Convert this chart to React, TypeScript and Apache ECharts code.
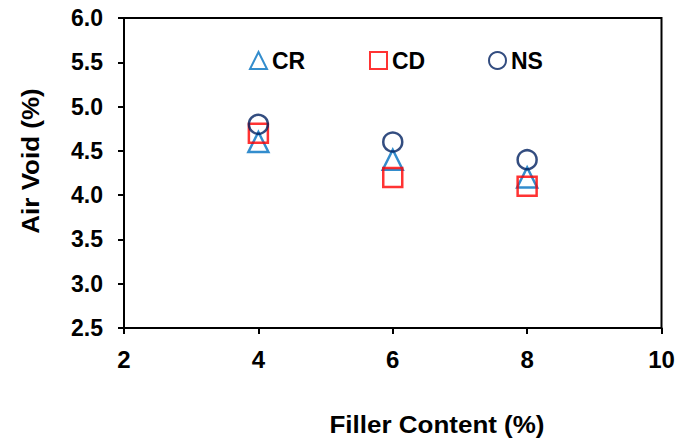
import React, { useEffect, useRef } from "react";
import * as echarts from "echarts";

const fillerContent = [4, 6, 8];
const crValues = [4.6, 4.4, 4.2];
const cdValues = [4.7, 4.2, 4.1];
const nsValues = [4.8, 4.6, 4.4];
const seriesNames = ["CR", "CD", "NS"];

const FONT = "'Liberation Sans', Arial, sans-serif";

export default function App() {
  const ref = useRef<HTMLDivElement>(null);
  useEffect(() => {
    document.body.style.margin = "0";
    if (!ref.current) return;
    const chart = echarts.init(ref.current, null, { renderer: "svg" });
    const mk = (name: string, vals: number[], symbol: string, color: string, size: number) => ({
      name,
      type: "scatter",
      symbol,
      symbolSize: size,
      data: fillerContent.map((x, i) => [x, vals[i]]),
      itemStyle: { color: "rgba(255,255,255,0)", borderColor: color, borderWidth: 2.5 },
      emphasis: { disabled: true },
    });
    const legendBase = (name: string, left: number) => ({
      data: [name],
      left,
      top: 44,
      itemWidth: 17,
      itemHeight: 17,
      itemGap: 0,
      selectedMode: false,
      textStyle: { fontFamily: FONT, fontWeight: "bold", fontSize: 23, color: "#000", padding: [0, 0, 0, 0] },
    });
    chart.setOption({
      animation: false,
      grid: { left: 124, right: 28.5, top: 18, bottom: 112, containLabel: false },
      legend: [legendBase(seriesNames[0], 244), legendBase(seriesNames[1], 364), legendBase(seriesNames[2], 483)],
      xAxis: {
        type: "value",
        min: 2,
        max: 10,
        interval: 2,
        axisLine: { show: true, onZero: false, lineStyle: { color: "#000", width: 2 } },
        axisTick: { show: true, length: 6, lineStyle: { color: "#000", width: 2 } },
        splitLine: { show: false },
        axisLabel: { fontFamily: FONT, fontWeight: "bold", fontSize: 24, color: "#000", margin: 19 },
      },
      yAxis: {
        type: "value",
        min: 2.5,
        max: 6.0,
        interval: 0.5,
        axisLine: { show: true, onZero: false, lineStyle: { color: "#000", width: 2 } },
        axisTick: { show: true, length: 6, lineStyle: { color: "#000", width: 2 } },
        splitLine: { show: false },
        axisLabel: {
          fontFamily: FONT,
          fontWeight: "bold",
          fontSize: 23,
          color: "#000",
          margin: 21,
          formatter: (v: number) => v.toFixed(1),
        },
      },
      graphic: [
        {
          type: "rect",
          shape: { x: 124, y: 18, width: 537.5, height: 310 },
          style: { fill: "none", stroke: "#000", lineWidth: 2 },
          silent: true,
          z: 10,
        },
        {
          type: "text",
          x: 31,
          y: 161,
          rotation: Math.PI / 2,
          scaleX: 1.13,
          style: {
            text: "Air Void (%)",
            font: `bold 23px ${FONT}`,
            fill: "#000",
            align: "center",
            verticalAlign: "middle",
          },
        },
        {
          type: "text",
          x: 437,
          y: 425,
          scaleX: 1.13,
          style: {
            text: "Filler Content (%)",
            font: `bold 23px ${FONT}`,
            fill: "#000",
            align: "center",
            verticalAlign: "middle",
          },
        },
      ],
      series: [
        mk(seriesNames[0], crValues, "triangle", "#0070C0", 20),
        mk(seriesNames[1], cdValues, "rect", "#FF0000", 19),
        mk(seriesNames[2], nsValues, "circle", "#002060", 19),
      ],
    });
    return () => chart.dispose();
  }, []);
  return <div ref={ref} style={{ width: 690, height: 440 }} />;
}
